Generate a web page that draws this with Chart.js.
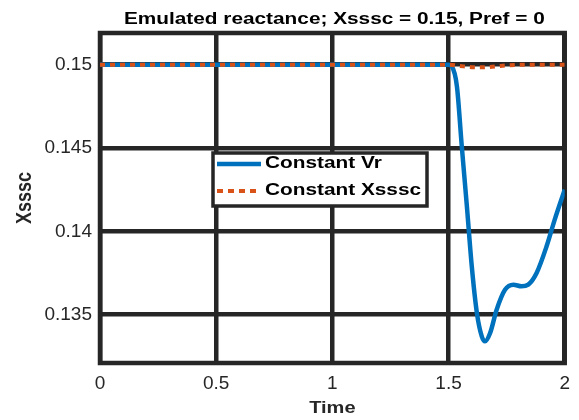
<!DOCTYPE html>
<html>
<head>
<meta charset="utf-8">
<script src="https://cdn.jsdelivr.net/npm/chart.js@4/dist/chart.umd.min.js"></script>
<style>
  html, body { margin: 0; padding: 0; background: #fff; }
  #wrap { width: 579px; height: 420px; }
</style>
</head>
<body>
<div id="wrap"><canvas id="xChart" width="579" height="420"></canvas></div>
<script>
// 數據 (從圖上讀的)
const timeVr = [0, 1.5, 1.514, 1.536, 1.557, 1.579, 1.600, 1.622, 1.643, 1.657, 1.679, 1.707, 1.743, 1.779, 1.814, 1.843, 1.879, 1.922, 1.957, 2.0];
const valueVr = [0.15, 0.15, 0.1499, 0.1487, 0.1451, 0.1415, 0.1379, 0.1351, 0.1337, 0.1334, 0.1339, 0.1353, 0.1365, 0.1368, 0.1367, 0.1368, 0.1375, 0.1391, 0.1407, 0.1425];
const timeXs = [0, 1.5, 1.55, 1.6, 1.65, 1.7, 1.75, 1.85, 2.0];
const valueXs = [0.15, 0.15, 0.14992, 0.14985, 0.14984, 0.14989, 0.14996, 0.15, 0.15];
const xTicks = [0, 0.5, 1, 1.5, 2];
const xTickLabels = ['0', '0.5', '1', '1.5', '2'];
const yTicks = [0.135, 0.14, 0.145, 0.15];
const yTickLabels = ['0.135', '0.14', '0.145', '0.15'];
const seriesNames = ['Constant Vr', 'Constant Xsssc'];
const titleText = 'Emulated reactance; Xsssc = 0.15, Pref = 0';
const xTitle = 'Time';
const yTitle = 'Xsssc';

const axisColor = '#262626';
const fontFamily = "'Liberation Sans', Arial, Helvetica, sans-serif";

function toPoints(xs, ys) {
    return xs.map((x, i) => ({ x: x, y: ys[i] }));
}

// 橫向拉寬的文字 (原圖字體被拉寬)
function drawText(ctx, text, x, y, font, color, sx, rotate) {
    ctx.save();
    ctx.translate(x, y);
    ctx.scale(sx, 1);
    if (rotate) ctx.rotate(rotate);
    ctx.font = font;
    ctx.fillStyle = color;
    ctx.textAlign = 'center';
    ctx.textBaseline = 'middle';
    ctx.fillText(text, 0, 0);
    ctx.restore();
}

const decorPlugin = {
    id: 'decor',
    beforeDatasetsDraw(chart) {
        const { ctx, chartArea: a } = chart;
        ctx.save();
        ctx.strokeStyle = axisColor;
        ctx.lineWidth = 4.5;
        ctx.strokeRect(a.left, a.top, a.right - a.left, a.bottom - a.top);
        ctx.restore();
    },
    afterDraw(chart) {
        const { ctx, chartArea: a } = chart;
        const cx = (a.left + a.right) / 2;
        drawText(ctx, titleText, cx + 2, 20, 'bold 16px ' + fontFamily, '#000', 1.3);
        drawText(ctx, xTitle, cx, 409, 'bold 16px ' + fontFamily, axisColor, 1.25);
        drawText(ctx, yTitle, 25, (a.top + a.bottom) / 2, 'bold 18px ' + fontFamily, axisColor, 1.24, -Math.PI / 2);

        // 圖例
        const lx = 213, ly = 153, lw = 214, lh = 53;
        ctx.save();
        ctx.fillStyle = '#fff';
        ctx.fillRect(lx, ly, lw, lh);
        ctx.strokeStyle = axisColor;
        ctx.lineWidth = 3.5;
        ctx.strokeRect(lx, ly, lw, lh);
        const rows = [164, 191];
        chart.data.datasets.forEach((ds, i) => {
            ctx.beginPath();
            ctx.strokeStyle = ds.borderColor;
            ctx.lineWidth = ds.borderWidth;
            ctx.setLineDash(i === 1 ? [6, 5] : []);
            ctx.moveTo(217, rows[i]);
            ctx.lineTo(i === 1 ? 256 : 261, rows[i]);
            ctx.stroke();
            ctx.setLineDash([]);
            ctx.save();
            ctx.translate(265, rows[i]);
            ctx.scale(1.3, 1);
            ctx.font = 'bold 16px ' + fontFamily;
            ctx.fillStyle = '#000';
            ctx.textAlign = 'left';
            ctx.textBaseline = 'middle';
            ctx.fillText(ds.label, 0, 0);
            ctx.restore();
        });
        ctx.restore();
    }
};

const ctx = document.getElementById('xChart').getContext('2d');
const xChart = new Chart(ctx, {
    type: 'line',
    data: {
        datasets: [{
            label: seriesNames[0],
            data: toPoints(timeVr, valueVr),
            borderColor: '#0072BD',
            borderWidth: 4.5,
            pointRadius: 0,
            cubicInterpolationMode: 'monotone',
            fill: false,
            order: 2
        }, {
            label: seriesNames[1],
            data: toPoints(timeXs, valueXs),
            borderColor: '#D95319',
            borderWidth: 4,
            borderDash: [5, 5],
            borderCapStyle: 'butt',
            pointRadius: 0,
            cubicInterpolationMode: 'monotone',
            fill: false,
            order: 1
        }]
    },
    options: {
        responsive: false,
        animation: false,
        layout: { padding: { top: 33, right: 13, left: 0, bottom: 0 } },
        plugins: {
            legend: { display: false },
            title: { display: false },
            tooltip: { enabled: false }
        },
        scales: {
            x: {
                type: 'linear',
                min: 0,
                max: 2,
                afterBuildTicks: (s) => { s.ticks = xTicks.map(v => ({ value: v })); },
                afterFit: (s) => { s.height = 57; },
                ticks: {
                    callback: (v, i) => xTickLabels[i],
                    font: { family: fontFamily, size: 19 },
                    color: axisColor,
                    padding: 9,
                    maxRotation: 0
                },
                grid: { color: axisColor, lineWidth: 4.5, drawTicks: false },
                border: { display: false }
            },
            y: {
                type: 'linear',
                min: 0.1321,
                max: 0.1519,
                afterBuildTicks: (s) => { s.ticks = yTicks.map(v => ({ value: v })); },
                afterFit: (s) => { s.width = 100; },
                ticks: {
                    callback: (v, i) => yTickLabels[i],
                    font: { family: fontFamily, size: 19 },
                    color: axisColor,
                    padding: 8
                },
                grid: { color: axisColor, lineWidth: 4.5, drawTicks: false },
                border: { display: false }
            }
        }
    },
    plugins: [decorPlugin]
});
</script>
</body>
</html>
